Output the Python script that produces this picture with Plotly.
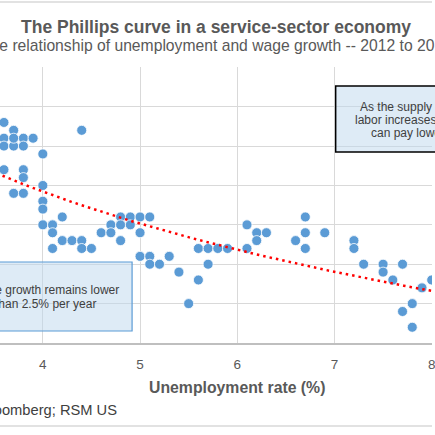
import numpy as np
import plotly.graph_objects as go

# unemployment rate (%) and wage growth (% y/y)
unemployment = [3.6, 3.7, 3.6, 3.8, 3.9, 3.6, 3.7, 3.8, 3.7, 4.4,
                4.0, 3.6, 3.8, 3.8, 4.0, 3.7, 3.8, 4.0, 4.0, 4.0,
                4.1, 4.1, 4.2, 4.1, 4.2, 4.3, 4.4, 4.4, 4.5, 4.6,
                4.7, 4.7, 4.8, 4.8, 4.8, 4.9, 4.9, 5.0, 5.0, 5.1,
                5.0, 5.1, 5.1, 5.2, 5.3, 5.4, 5.5, 5.6, 5.7, 5.8,
                5.9, 5.6, 5.7, 6.1, 6.1, 6.2, 6.2, 6.3, 6.6, 6.7,
                6.7, 6.7, 6.9, 7.2, 7.2, 7.3, 7.5, 7.5, 7.6, 7.7,
                7.9, 8.0, 7.8, 7.7, 7.8]
wage_growth = [3.40, 3.35, 3.30, 3.30, 3.30, 3.25, 3.25, 3.25, 3.30, 3.35,
               3.20, 3.10, 3.10, 3.05, 3.00, 2.95, 2.95, 2.90, 2.85, 2.75,
               2.75, 2.70, 2.80, 2.60, 2.65, 2.65, 2.65, 2.60, 2.60, 2.70,
               2.75, 2.70, 2.80, 2.75, 2.65, 2.80, 2.75, 2.80, 2.70, 2.80,
               2.55, 2.55, 2.50, 2.50, 2.55, 2.45, 2.25, 2.60, 2.60, 2.60,
               2.60, 2.40, 2.50, 2.75, 2.60, 2.70, 2.65, 2.70, 2.65, 2.80,
               2.70, 2.60, 2.70, 2.65, 2.60, 2.50, 2.50, 2.45, 2.40, 2.50,
               2.35, 2.40, 2.25, 2.20, 2.10]

x_ticks = [4, 5, 6, 7, 8]

title = "<b>The Phillips curve in a service-sector economy</b>"
subtitle = "The relationship of unemployment and wage growth -- 2012 to 2019"
source = "Source: Bloomberg; RSM US"
note_left = ["Wage growth remains lower", "than 2.5% per year"]
note_right = ["As the supply of", "labor increases, firms", "can pay lower wages"]

# logarithmic trendline fitted to the points
u = np.array(unemployment)
w = np.array(wage_growth)
b, a = np.polyfit(np.log(u), w, 1)
trend_x = np.linspace(3.4, 8.2, 60)
trend_y = a + b * np.log(trend_x)

FONT = "Arial, Liberation Sans, sans-serif"
GRAY = "#595959"
TEXT = "#404040"

fig = go.Figure()
fig.add_trace(go.Scatter(
    x=unemployment, y=wage_growth, mode="markers",
    marker=dict(size=10, color="#5b9bd5", line=dict(color="white", width=0.8)),
    showlegend=False))
fig.add_trace(go.Scatter(
    x=trend_x, y=trend_y, mode="lines",
    line=dict(color="#ff0000", width=2.5, dash="2.5px,4px"),
    showlegend=False))

# plot area is 276 px tall (y 67..343); paper units derived from that
def py(p):
    return (343 - p) / 276

def px(p):
    return p / 435

shapes = [
    dict(type="rect", xref="paper", yref="paper",
         x0=-0.1, x1=px(133), y0=py(331), y1=py(262),
         fillcolor="rgba(189,215,238,0.5)", line=dict(color="#5b9bd5", width=1.2)),
    dict(type="rect", xref="paper", yref="paper",
         x0=px(338), x1=1.1, y0=py(152), y1=py(86),
         fillcolor="rgba(189,215,238,0.5)", line=dict(color="black", width=1.5)),
    dict(type="line", xref="paper", yref="paper", x0=0, x1=1, y0=py(426), y1=py(426),
         line=dict(color="#d9d9d9", width=1.5)),
    dict(type="line", xref="paper", yref="paper", x0=0, x1=1, y0=py(2), y1=py(2),
         line=dict(color="#d9d9d9", width=1.5)),
]

def note(text, x, y, size, color, xref="paper", xanchor="center"):
    return dict(text=text, xref=xref, yref="paper", x=x, y=y, xanchor=xanchor,
                yanchor="middle", showarrow=False, align="center",
                font=dict(size=size, color=color, family=FONT))

annotations = [
    note(title, 0.5, py(27), 17.5, GRAY),
    note(subtitle, 0.5, py(45), 15.7, GRAY),
    note("<b>Unemployment rate (%)</b>", 6.0, py(387), 15.8, GRAY, xref="x"),
    note(source, px(-77), py(410), 14.7, TEXT, xanchor="left"),
]
# text boxes: one annotation per line to keep the tight line spacing
for line, y0 in zip(note_left, [290, 304]):
    annotations.append(note(line, px(45.5), py(y0), 12, TEXT))
for line, x0, y0 in zip(note_right, [360, 355, 372], [107, 120, 133]):
    annotations.append(note(line, px(x0), py(y0), 12, TEXT, xanchor="left"))

fig.update_layout(
    width=435, height=435,
    margin=dict(l=0, r=0, t=67, b=92),
    paper_bgcolor="white", plot_bgcolor="white",
    font=dict(family=FONT, color=GRAY),
    shapes=shapes, annotations=annotations,
    xaxis=dict(range=[3.5595, 8.003], tickvals=x_ticks, showgrid=True,
               gridcolor="#d9d9d9", gridwidth=1.3, zeroline=False,
               showline=True, linecolor="#bfbfbf", linewidth=2,
               ticklabelstandoff=8, ticklabeloverflow="allow",
               tickfont=dict(size=13.5, color=GRAY)),
    yaxis=dict(range=[2.0, 3.752], dtick=0.25, tick0=2.0, showticklabels=False,
               showgrid=True, gridcolor="#d9d9d9", gridwidth=1.3, zeroline=False),
)

# the page body has a default 8px margin; drop it so the figure fills the window
fig.write_html("out.html", config={"displayModeBar": False},
               post_script="document.body.style.margin = '0px';")
